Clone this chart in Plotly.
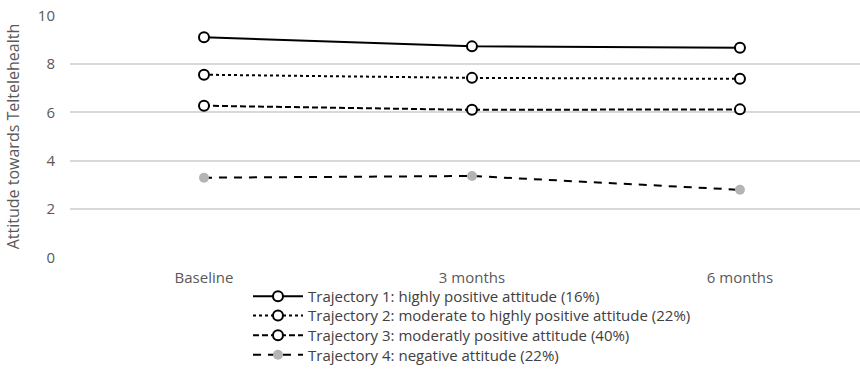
import plotly.graph_objects as go

categories = ["Baseline", "3 months", "6 months"]
traj1 = [9.1, 8.72, 8.66]
traj2 = [7.55, 7.42, 7.38]
traj3 = [6.27, 6.1, 6.12]
traj4 = [3.3, 3.37, 2.8]
names = [
    "Trajectory 1: highly positive attitude (16%)",
    "Trajectory 2: moderate to highly positive attitude (22%)",
    "Trajectory 3: moderatly positive attitude (40%)",
    "Trajectory 4: negative attitude (22%)",
]
yticks = [0, 2, 4, 6, 8, 10]

fig = go.Figure()
hollow = dict(symbol="circle", size=10, color="white", line=dict(color="black", width=2))
fig.add_trace(go.Scatter(x=categories, y=traj1, name=names[0], mode="lines+markers",
                         line=dict(color="black", width=2), marker=hollow, legend="legend"))
fig.add_trace(go.Scatter(x=categories, y=traj2, name=names[1], mode="lines+markers",
                         line=dict(color="black", width=2, dash="dot"), marker=hollow, legend="legend2"))
fig.add_trace(go.Scatter(x=categories, y=traj3, name=names[2], mode="lines+markers",
                         line=dict(color="black", width=2, dash="6px,3px"), marker=hollow, legend="legend3"))
fig.add_trace(go.Scatter(x=categories, y=traj4, name=names[3], mode="lines+markers",
                         line=dict(color="black", width=2, dash="8px,7px"),
                         marker=dict(symbol="circle", size=10, color="#b4b4b4"), legend="legend4"))

legend_common = dict(orientation="v", x=0.2253, xanchor="left", yanchor="middle",
                     font=dict(family="Open Sans, sans-serif", size=15, color="#404040"),
                     itemwidth=50, bgcolor="rgba(0,0,0,0)")
legend_rows = [-0.158, -0.238, -0.319, -0.399]

fig.update_layout(
    width=860, height=386,
    margin=dict(l=70, r=0, t=15, b=128),
    paper_bgcolor="white", plot_bgcolor="white",
    font=dict(family="Open Sans, sans-serif", size=15, color="#595959"),
    showlegend=True,
    legend=dict(legend_common, y=legend_rows[0]),
    legend2=dict(legend_common, y=legend_rows[1]),
    legend3=dict(legend_common, y=legend_rows[2]),
    legend4=dict(legend_common, y=legend_rows[3]),
    xaxis=dict(type="category", range=[-0.5, 2.448], showgrid=False, showline=False,
               ticks="", automargin=False, ticklabelstandoff=9,
               tickfont=dict(size=15, color="#595959")),
    yaxis=dict(range=[-0.015, 10.015], tickvals=yticks, showgrid=True, gridcolor="#d9d9d9",
               gridwidth=1.5, zeroline=False, showline=False, ticks="",
               automargin=False, ticklabelstandoff=14, ticklabeloverflow="allow",
               tickfont=dict(size=15, color="#595959"),
               title=dict(text="Attitude towards Teltelehealth",
                          font=dict(family="Open Sans, sans-serif", size=16, color="#595959"),
                          standoff=14)),
)
fig.write_html("out.html", config={"displayModeBar": False},
               post_script="document.body.style.margin='0px';")
